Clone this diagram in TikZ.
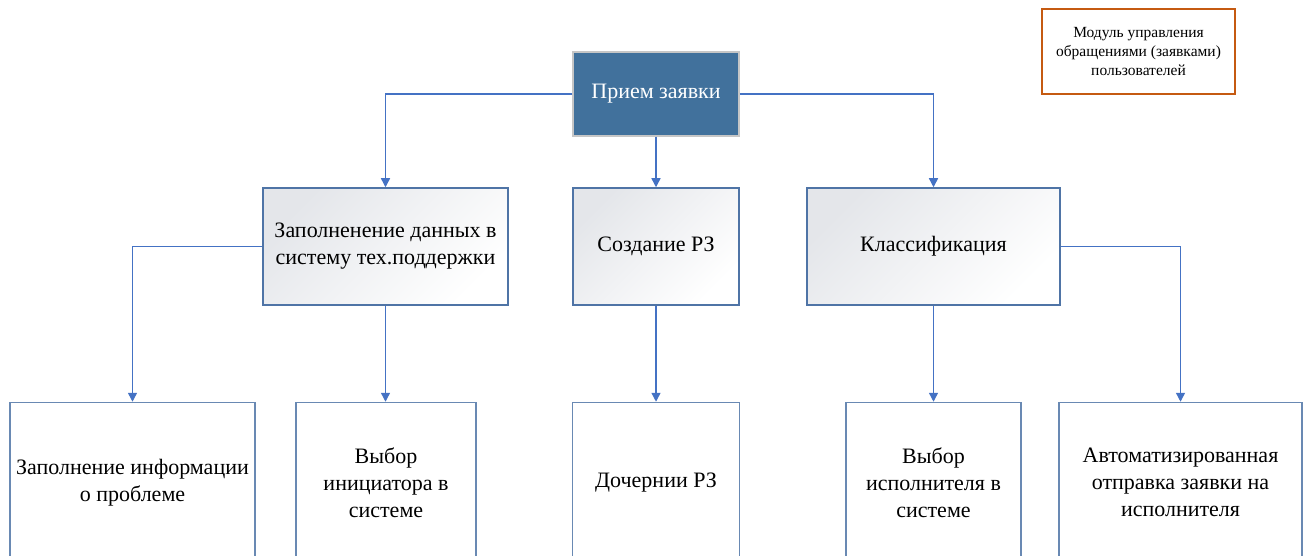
\documentclass[tikz,border=0pt]{standalone}
\usepackage{fontspec}
\setmainfont{Liberation Serif}
\usetikzlibrary{arrows.meta}
\definecolor{headblue}{HTML}{41719C}
\definecolor{linkblue}{HTML}{4472C4}
\definecolor{boxblue}{HTML}{4F74A6}
\definecolor{legendred}{HTML}{C55A11}
\definecolor{shadegray}{HTML}{E4E6EA}

\begin{document}
\begin{tikzpicture}[x=1pt, y=-1pt,
    txt/.style={font=\fontsize{22}{27}\selectfont, align=center},
    headbox/.style={txt, draw=gray!45, line width=1.5pt, fill=headblue, text=white,
      minimum width=166pt, minimum height=84pt},
    midbox/.style={txt, draw=boxblue, line width=1.5pt, shading=axis,
      top color=shadegray, bottom color=white, shading angle=45, minimum height=117pt},
    leafbox/.style={txt, draw=boxblue!85, line width=1.5pt, fill=white, minimum height=160pt},
    link/.style={draw=linkblue, line width=1.4pt, -{Triangle[width=9pt,length=9pt]}}]
  \useasboundingbox (0,0) rectangle (1303,556);
  \clip (0,0) rectangle (1303,556);

  % legend
  \node[draw=legendred, line width=1.5pt, minimum width=193pt, minimum height=85pt,
    font=\fontsize{15.5}{19}\selectfont, align=center] (legend) at (1138.5,51.5)
    {Модуль управления\\обращениями (заявками)\\пользователей};

  % top level
  \node[headbox] (recv) at (656,94) {Прием заявки};

  % second level
  \node[midbox, minimum width=245pt] (fill) at (385.5,246.5) {Заполненение данных в\\систему тех.поддержки};
  \node[midbox, minimum width=166pt] (create) at (656,246.5) {Создание РЗ};
  \node[midbox, minimum width=253pt] (classify) at (933.5,246.5) {Классификация};

  % third level
  \node[leafbox, minimum width=245pt] (info) at (132.5,482.5) {Заполнение информации\\о проблеме};
  \node[leafbox, minimum width=180pt] (init) at (386,482.5) {Выбор\\инициатора в\\системе};
  \node[leafbox, minimum width=167pt] (child) at (656,482.5) {Дочернии РЗ};
  \node[leafbox, minimum width=175pt] (exec) at (933.5,482.5) {Выбор\\исполнителя в\\системе};
  \node[leafbox, minimum width=243pt] (auto) at (1180.5,482.5) {Автоматизированная\\отправка заявки на\\исполнителя};

  % links
  \draw[link] (recv.west) -| (fill.north);
  \draw[link] (recv.south) -- (create.north);
  \draw[link] (recv.east) -| (classify.north);
  \draw[link] (fill.west) -| (info.north);
  \draw[link] (fill.south) -- (fill.south |- init.north);
  \draw[link] (create.south) -- (child.north);
  \draw[link] (classify.south) -- (exec.north);
  \draw[link] (classify.east) -| (auto.north);
\end{tikzpicture}
\end{document}
